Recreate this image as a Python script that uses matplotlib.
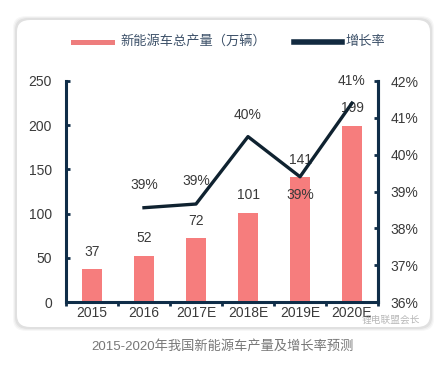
import matplotlib
matplotlib.use("Agg")
import matplotlib.pyplot as plt
from matplotlib.patches import FancyBboxPatch, Rectangle
from matplotlib.lines import Line2D

plt.rcParams['font.family'] = ['Liberation Sans', 'Noto Sans CJK SC', 'DejaVu Sans']

years = ["2015", "2016", "2017E", "2018E", "2019E", "2020E"]
output = [37, 52, 72, 101, 141, 199]
growth_years = ["2016", "2017E", "2018E", "2019E", "2020E"]
growth = [38.56, 38.66, 40.49, 39.4, 41.4]
growth_labels = ["39%", "39%", "40%", "39%", "41%"]

bar_color = "#f67d7d"
navy = "#0f2d48"
text_color = "#3a3a3a"

fig = plt.figure(figsize=(4.41, 3.9), dpi=100)
W, H = 441, 390

# card with shadow
for i, a in enumerate([0.03, 0.04, 0.05]):
    d = 4 - i
    fig.patches.append(FancyBboxPatch((17 / W - d / W, (390 - 327 - d) / H),
                                      (413 + 2 * d) / W, (307 + 2 * d) / H,
                                      boxstyle="round,pad=0,rounding_size=0.03",
                                      transform=fig.transFigure, fc="black", ec="none",
                                      alpha=a, zorder=-3))
fig.patches.append(FancyBboxPatch((17 / W, (390 - 327) / H), 413 / W, 307 / H,
                                  boxstyle="round,pad=0,rounding_size=0.03",
                                  transform=fig.transFigure, fc="white", ec="none",
                                  zorder=-2))

ax = fig.add_axes([66 / W, 88 / H, 312 / W, 221 / H])
ax.set_facecolor("none")
x = list(range(len(years)))
ax.bar(x, output, width=0.4, color=bar_color, zorder=2)
for xi, v in zip(x, output):
    ax.text(xi, v + 12, str(v), ha="center", va="bottom", fontsize=10, color=text_color)
ax.set_xlim(-0.5, 5.5)
ax.set_ylim(0, 250)
ax.set_yticks([0, 50, 100, 150, 200, 250])
ax.set_xticks(x)
ax.set_xticklabels(years)
ax.set_xticks([i + 0.5 for i in range(-1, 6)], minor=True)
ax.tick_params(axis="x", which="major", length=0, labelsize=10, labelcolor=text_color, pad=3)
ax.tick_params(axis="x", which="minor", length=3, width=2, color=navy, direction="out")
ax.tick_params(axis="y", length=3, width=2, color=navy, direction="in",
               labelsize=10, labelcolor=text_color, pad=10)
for s in ["left", "bottom", "right"]:
    ax.spines[s].set_color(navy)
    ax.spines[s].set_linewidth(2.2)
ax.spines["top"].set_visible(False)

ax2 = ax.twinx()
gx = [years.index(y) for y in growth_years]
ax2.plot(gx, growth, color="#0f2230", lw=2.4, zorder=3)
ax2.set_ylim(36, 42)
ax2.set_yticks([36, 37, 38, 39, 40, 41, 42])
ax2.set_yticklabels([f"{v}%" for v in range(36, 43)])
ax2.tick_params(axis="y", length=3, width=2, color=navy, direction="in",
                labelsize=10, labelcolor=text_color, pad=9)
ax2.spines["right"].set_color(navy)
ax2.spines["right"].set_linewidth(2.2)
for s in ["left", "bottom", "top"]:
    ax2.spines[s].set_visible(False)
label_pos = [39.18, 39.29, 41.08, 38.9, 42.0]
for xi, yv, lab in zip(gx, label_pos, growth_labels):
    ax2.text(xi, yv, lab, ha="center", va="center", fontsize=10, color=text_color)

# legend
fig.add_artist(Rectangle((71 / W, (390 - 45) / H), 44 / W, 5 / H,
                         transform=fig.transFigure, fc="#ee7d7d", ec="none"))
fig.text(120 / W, (390 - 42) / H, "新能源车总产量（万辆）", fontsize=9.5,
         color="#3d5169", va="center", ha="left")
fig.add_artist(Line2D([294 / W, 342 / W], [(390 - 42) / H] * 2,
                      transform=fig.transFigure, color="#122a40", lw=4))
fig.text(345 / W, (390 - 42) / H, "增长率", fontsize=9.5,
         color="#3d5169", va="center", ha="left")

# watermark
fig.text(362 / W, (390 - 320) / H, "锂电联盟会长", fontsize=7, color="#9a9a9a",
         alpha=0.7, ha="left", va="center", family=["Noto Sans CJK SC"])

fig.text(222 / W, (390 - 346) / H, "2015-2020年我国新能源车产量及增长率预测",
         fontsize=9.5, color="#777777", ha="center", va="center")

fig.savefig("out.png", dpi=100, facecolor="white")
